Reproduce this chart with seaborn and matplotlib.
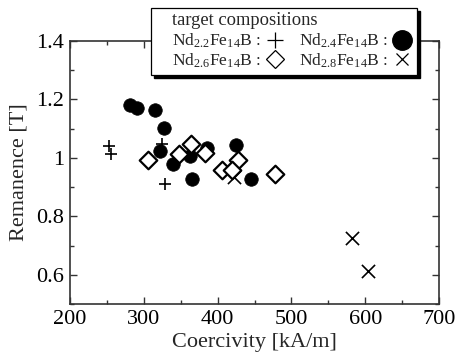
import numpy as np
import pandas as pd
import matplotlib
matplotlib.use("Agg")
import matplotlib.pyplot as plt
import seaborn as sns
from matplotlib.lines import Line2D
from matplotlib.patches import Rectangle
from matplotlib.ticker import MultipleLocator, FuncFormatter

# --- data ---
nd22_hc = [252.8, 255.1, 324.3, 328.7]
nd22_br = [1.040, 1.014, 1.046, 0.910]

nd24_hc = [281.3, 290.4, 315.2, 327.8, 322.0, 340.0, 362.6, 385.2, 364.9, 425.0, 444.9]
nd24_br = [1.182, 1.170, 1.163, 1.103, 1.023, 0.979, 1.006, 1.034, 0.929, 1.044, 0.929]

nd26_hc = [306.1, 348.1, 364.0, 382.9, 428.0, 405.6, 419.1, 477.8]
nd26_br = [0.994, 1.014, 1.046, 1.017, 0.994, 0.957, 0.957, 0.945]

nd28_hc = [422.2, 581.7, 604.2]
nd28_br = [0.933, 0.725, 0.615]

labels = ["Nd$_{2.2}$Fe$_{14}$B :", "Nd$_{2.4}$Fe$_{14}$B :",
          "Nd$_{2.6}$Fe$_{14}$B :", "Nd$_{2.8}$Fe$_{14}$B :"]
legend_title = "target compositions"
x_label = "Coercivity [kA/m]"
y_label = "Remanence [T]"

sns.set_style("ticks")
plt.rcParams["font.family"] = ["Liberation Serif", "DejaVu Serif"]
plt.rcParams["mathtext.fontset"] = "custom"
plt.rcParams["mathtext.rm"] = "Liberation Serif"
plt.rcParams["mathtext.it"] = "Liberation Serif:italic"

W, H = 457, 360
fig = plt.figure(figsize=(W / 100, H / 100), dpi=100)
ax = fig.add_axes([0.153, 0.155, 0.808, 0.732])

d22 = pd.DataFrame({"hc": nd22_hc, "br": nd22_br})
d24 = pd.DataFrame({"hc": nd24_hc, "br": nd24_br})
d26 = pd.DataFrame({"hc": nd26_hc, "br": nd26_br})
d28 = pd.DataFrame({"hc": nd28_hc, "br": nd28_br})

sns.scatterplot(data=d22, x="hc", y="br", marker="+", s=70, color="black",
                linewidth=1.2, ax=ax, zorder=2)
sns.scatterplot(data=d28, x="hc", y="br", marker="x", s=90, color="black",
                linewidth=1.2, ax=ax, zorder=2)
sns.scatterplot(data=d24, x="hc", y="br", marker="o", s=95, color="black",
                edgecolor="black", linewidth=0.5, ax=ax, zorder=3)
sns.scatterplot(data=d26, x="hc", y="br", marker="D", s=80, facecolor="white",
                edgecolor="black", linewidth=1.6, ax=ax, zorder=4)

ax.set_xlim(200, 700)
ax.set_ylim(0.5, 1.4)
ax.xaxis.set_major_locator(MultipleLocator(100))
ax.xaxis.set_minor_locator(MultipleLocator(50))
ax.yaxis.set_major_locator(MultipleLocator(0.2))
ax.yaxis.set_minor_locator(MultipleLocator(0.1))
ax.yaxis.set_major_formatter(FuncFormatter(lambda v, p: f"{v:g}"))
ax.tick_params(which="both", direction="in", top=True, right=True,
               labelsize=16, width=1.0, colors="#333333", labelcolor="black")
ax.tick_params(which="major", length=5, pad=4)
ax.tick_params(which="minor", length=3)
for sp in ax.spines.values():
    sp.set_linewidth(1.2)
    sp.set_color("#333333")
ax.set_xlabel(x_label, fontsize=16, labelpad=3)
ax.set_ylabel(y_label, fontsize=16, labelpad=6)

# legend box with hard shadow (figure pixel coords -> fractions)
bx0, bx1, by0, by1 = 151, 417, 8, 75
fig.patches.append(Rectangle(((bx0 + 3) / W, 1 - (by1 + 3) / H),
                             (bx1 - bx0) / W, (by1 - by0) / H,
                             transform=fig.transFigure, facecolor="black",
                             edgecolor="black", zorder=8))
fig.patches.append(Rectangle((bx0 / W, 1 - by1 / H),
                             (bx1 - bx0) / W, (by1 - by0) / H,
                             transform=fig.transFigure, facecolor="white",
                             edgecolor="black", linewidth=0.9, zorder=9))

handles = [
    Line2D([], [], ls="none", marker="+", ms=11, mew=0.9, color="black"),
    Line2D([], [], ls="none", marker="D", ms=9, mew=0.9, mfc="white", mec="black"),
    Line2D([], [], ls="none", marker="o", ms=14, color="black"),
    Line2D([], [], ls="none", marker="x", ms=9, mew=0.9, color="black"),
]
leg_labels = [labels[0], labels[2], labels[1], labels[3]]
leg = fig.legend(handles, leg_labels, ncol=2, title=legend_title,
                 loc="upper left", bbox_to_anchor=(172 / W, 1 - 12 / H),
                 bbox_transform=fig.transFigure, markerfirst=False,
                 fontsize=12.6, title_fontsize=13.3, frameon=False,
                 handlelength=1.0, handletextpad=0.3, columnspacing=0.9,
                 labelspacing=0.08, borderpad=0, borderaxespad=0)
leg._legend_box.align = "left"
leg._legend_box.sep = 2
leg.set_zorder(10)

fig.savefig("out.png", dpi=100)
